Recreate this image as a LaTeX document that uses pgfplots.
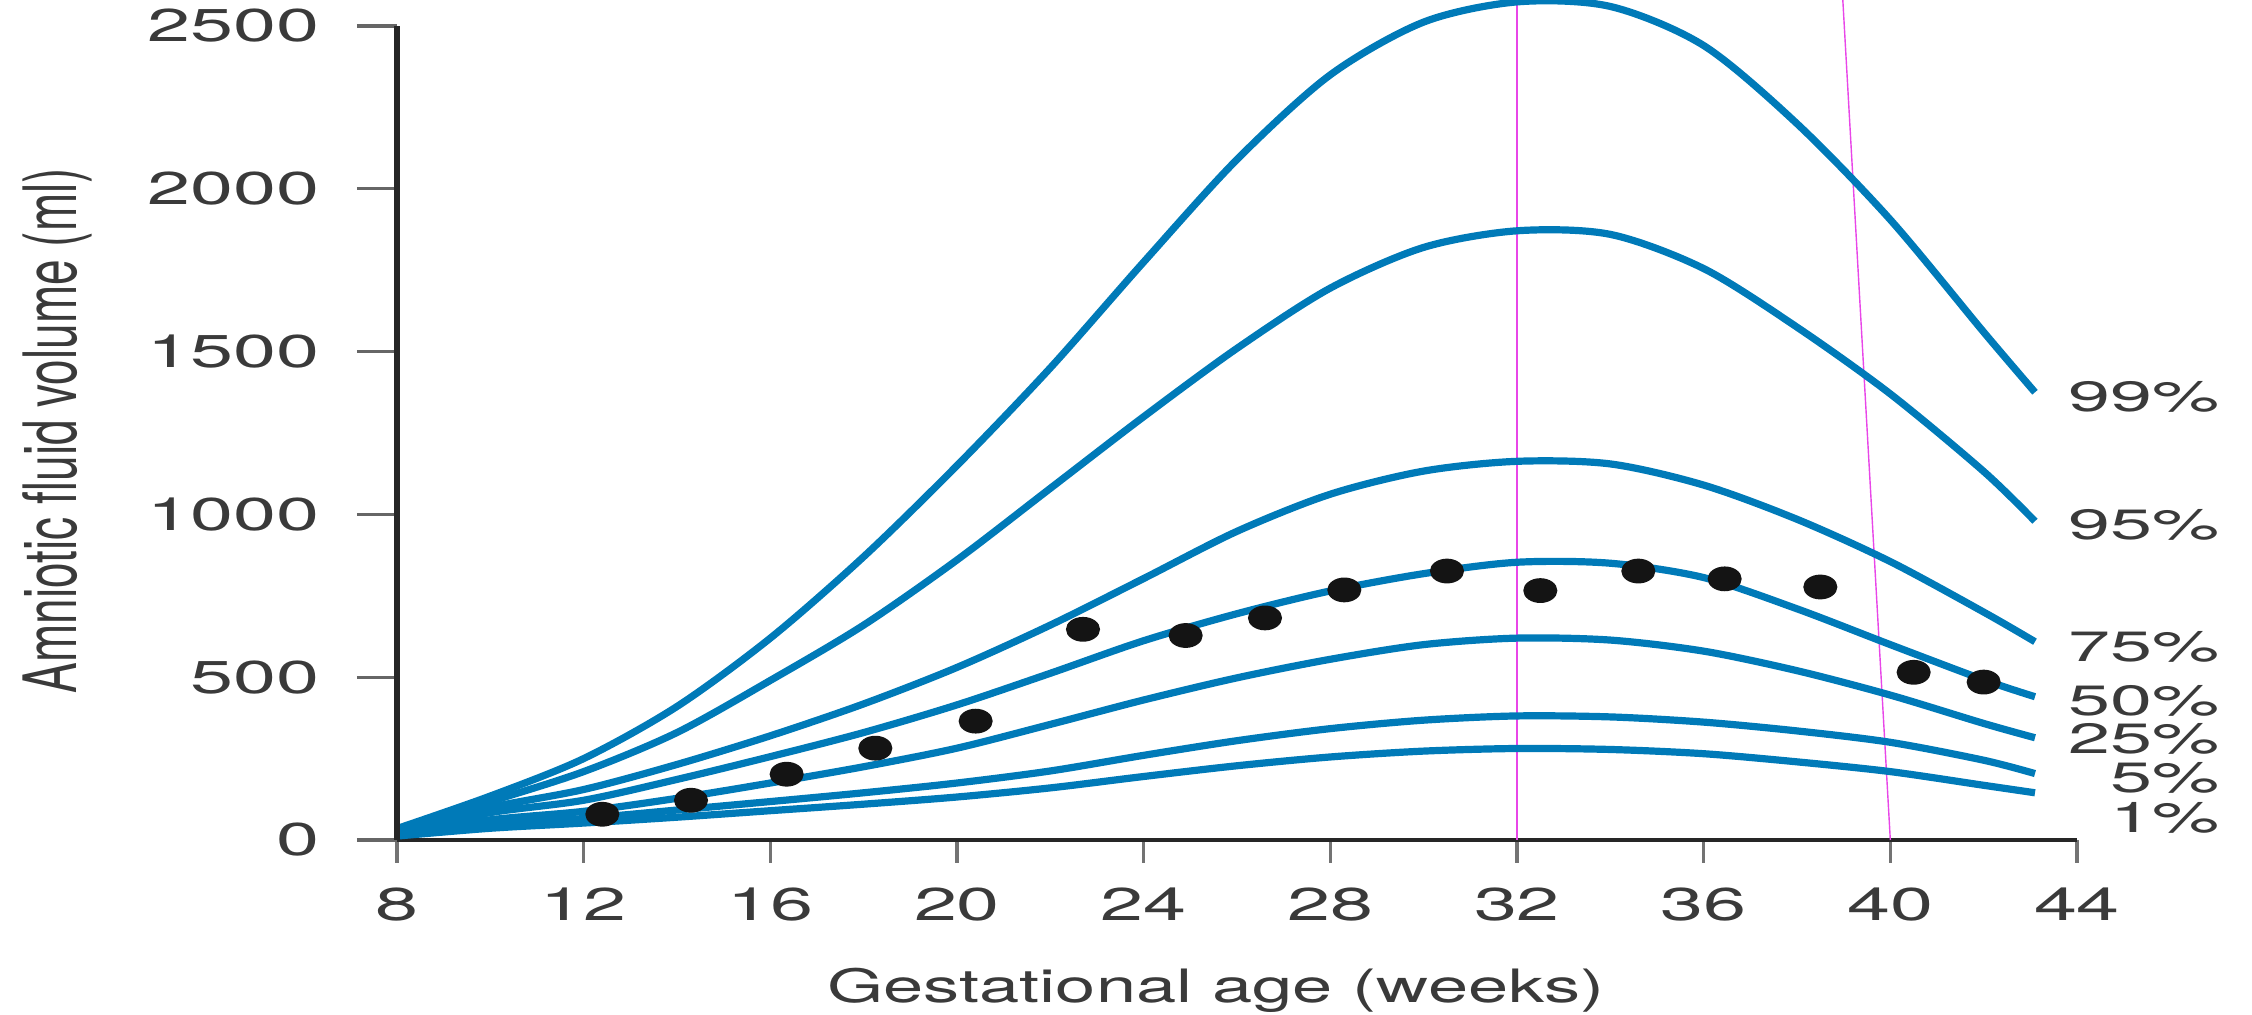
\documentclass[border=0pt]{standalone}
\usepackage{pgfplots}
\pgfplotsset{compat=1.18}
\usepackage{pgfplotstable}
\usepackage{fontspec}
\setmainfont{TeX Gyre Heros}
\definecolor{curve}{RGB}{0,122,184}
\definecolor{txt}{RGB}{58,58,58}
\definecolor{pinkline}{RGB}{232,70,232}
\newcommand{\hs}[1]{\scalebox{1.68}[1]{#1}}
\newcommand{\hl}[1]{\scalebox{1.57}[1]{#1}}
\newcommand{\hp}[1]{\scalebox{1.78}[1]{#1}}
\newcommand{\tickfont}{\fontsize{11.5}{13}\selectfont}
\newcommand{\pctfont}{\fontsize{10.6}{12}\selectfont}
\newcommand{\labfont}{\fontsize{11.5}{13}\selectfont}

\pgfplotstableread{
w    p99  p95  p75  p50  p25  p5   p1
8    35   30   28   25   20   15   12
10   135  118  100  84   62   46   36
12   250  210  155  122  88   66   52
14   410  330  232  186  128  92   70
16   620  490  320  256  175  118  90
18   870  660  418  330  225  145  110
20   1150 860  530  415  282  175  132
22   1450 1080 660  512  355  212  160
24   1775 1300 803  612  430  260  195
26   2090 1510 948  695  498  305  228
28   2350 1695 1062 765  555  342  255
30   2512 1820 1133 818  600  368  273
32   2574 1871 1163 853  620  381  281
34   2560 1860 1155 850  614  378  278
36   2440 1755 1090 806  580  362  265
38   2200 1575 985  710  520  335  240
40   1905 1370 855  600  445  300  210
42   1560 1132 700  492  358  245  168
43.1 1375 979  609  440  314  204  145
}\curves

\pgfplotstableread{
w     v
12.4  79
14.3  122
16.35 202
18.25 282
20.4  365
22.7  647
24.9  628
26.6  682
28.3  768
30.5  826
32.5  766
34.6  826
36.45 802
38.5  777
40.5  515
42.0  485
}\dots

\begin{document}
\begin{tikzpicture}
\begin{axis}[
  at={(0,0)}, anchor=south west,
  width=420pt, height=203.5pt, scale only axis,
  xmin=8, xmax=44, ymin=0, ymax=2500,
  clip=false,
  axis x line=bottom, axis y line=none,
  x axis line style={-, line width=1.2pt, color=black!85},
  xtick={8,12,16,20,24,28,32,36,40,44},
  xticklabels={\hs{8},\hs{12},\hs{16},\hs{20},\hs{24},\hs{28},\hs{32},\hs{36},\hs{40},\hs{44}},
  tick align=outside,
  major tick length=5.75pt,
  xtick style={line width=0.9pt, color=black!55},
  xticklabel style={font=\tickfont, text=txt, anchor=base, inner sep=0pt, yshift=-14.5pt},
  xlabel={\hl{Gestational age (weeks)}},
  xlabel style={font=\labfont, text=txt, at={(axis description cs:0.4875,-0.2002)}, anchor=base, inner sep=0pt},
]
\addplot[pinkline, line width=0.35pt] coordinates {(32,0) (32,2585)};
\addplot[pinkline, line width=0.35pt] coordinates {(40,0) (38.98,2585)};
\foreach \c in {p99,p95,p75,p50,p25,p5,p1}{
  \addplot[curve, line width=1.8pt, smooth, no markers] table[x=w, y=\c] {\curves};
}
\addplot[only marks, mark=*, mark size=2.9pt, mark options={fill=black!92, draw=black!92, xscale=1.4}] table[x=w, y=v] {\dots};
\tikzset{pct/.style={anchor=east, inner sep=0pt, font=\pctfont, text=txt, text height=7.3pt, text depth=0pt}}
\node[pct] at (axis cs:47.08,1360) {\hp{99\%}};
\node[pct] at (axis cs:47.08,968) {\hp{95\%}};
\node[pct] at (axis cs:47.08,593) {\hp{75\%}};
\node[pct] at (axis cs:47.08,428) {\hp{50\%}};
\node[pct] at (axis cs:47.08,310) {\hp{25\%}};
\node[pct] at (axis cs:47.08,191) {\hp{5\%}};
\node[pct] at (axis cs:47.08,68) {\hp{1\%}};
\end{axis}
\begin{axis}[
  at={(0,0)}, anchor=south west,
  width=420pt, height=203.5pt, scale only axis,
  xmin=8, xmax=44, ymin=0, ymax=2500,
  axis x line=none, axis y line=left,
  y axis line style={-, line width=1.6pt, color=black!85},
  ytick={0,500,1000,1500,2000,2500},
  yticklabels={\hs{0},\hs{500},\hs{1000},\hs{1500},\hs{2000},\hs{2500}},
  tick align=outside, major tick length=10pt,
  ytick style={line width=0.8pt, color=black!60},
  yticklabel style={font=\tickfont, text=txt, anchor=east, inner sep=0pt, xshift=-9.3pt},
  ylabel={\scalebox{1}[1.6]{Amniotic fluid volume (ml)}},
  ylabel style={font=\labfont, text=txt, at={(axis description cs:-0.2024,0.503)}, anchor=center, inner sep=0pt},
]
\end{axis}
\pgfresetboundingbox
\useasboundingbox (-99.25pt,-43.75pt) rectangle (463.75pt,210pt);
\end{tikzpicture}
\end{document}
